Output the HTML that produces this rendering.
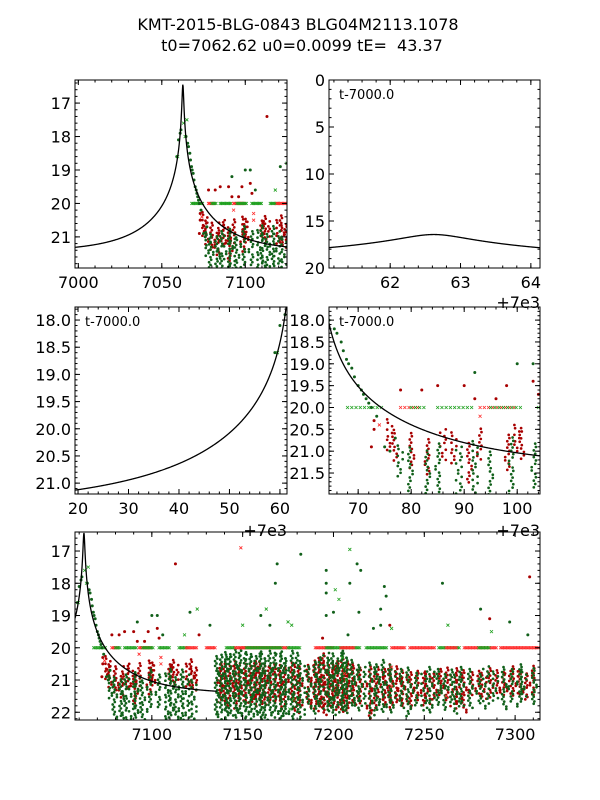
<!DOCTYPE html>
<html><head><meta charset="utf-8"><style>
html,body{margin:0;padding:0;background:#fff;}
svg{display:block;font-family:"DejaVu Sans","Liberation Sans",sans-serif;}
</style></head><body>
<svg id="fig" xmlns="http://www.w3.org/2000/svg" width="600" height="800" viewBox="0 0 600 800">
<rect width="600" height="800" fill="#fff"/>
<text x="298" y="30" font-size="16" text-anchor="middle">KMT-2015-BLG-0843 BLG04M2113.1078</text>
<text x="302" y="51" font-size="16" text-anchor="middle" xml:space="preserve">t0=7062.62 u0=0.0099 tE=  43.37</text>
</svg>
<script>
// model parameters
const modelT0 = [7062.62];
const modelU0 = [0.0099];
const modelTE = [43.37];
const modelM0 = [21.45];
// red dense observation nights: [t, brightest mag, faintest mag]
const redStreaks = [
[7076,20.3,21.0],[7077,20.5,21.2],[7080,20.6,21.4],[7083,20.7,21.5],[7086,20.5,21.2],[7088,20.6,21.3],[7091,20.8,21.7],[7093,20.5,21.2],[7098,20.6,21.4],[7100,20.4,21.0],[7101,20.5,21.2],[7110,20.5,21.0],[7111,20.4,21.0],[7113,20.5,21.1],[7120,20.5,21.2],[7122,20.4,21.2],[7124,20.6,21.3],
[7137,20.5,21.7],[7139,20.6,21.5],[7141,20.5,21.8],[7143,20.6,21.6],[7145,20.4,21.5],[7147,20.5,21.9],[7149,20.6,21.6],[7152,20.5,21.7],[7154,20.6,21.5],[7156,20.4,21.8],[7158,20.5,21.6],[7160,20.4,21.7],[7162,20.5,21.6],[7164,20.6,21.8],[7166,20.5,21.5],[7169,20.6,21.7],[7171,20.5,21.6],[7173,20.6,21.9],[7176,20.5,21.6],[7180,20.5,22.0],[7182,20.6,21.8],
[7186,20.5,21.8],[7189,20.4,21.7],[7191,20.5,22.0],[7193,20.3,21.8],[7195,20.2,22.1],[7197,20.5,21.7],[7199,20.6,21.8],[7201,20.5,21.6],[7203,20.4,21.9],[7205,20.3,22.0],[7207,20.4,21.9],[7209,20.5,21.7],[7212,20.6,21.8],[7215,20.6,21.7],
[7220,20.6,22.2],[7222,20.7,21.9],[7226,20.6,21.6],[7229,20.7,21.8],[7231,20.5,21.9],[7234,20.6,21.7],[7236,20.7,21.6],[7239,20.7,21.8],[7243,20.8,21.9],[7246,20.7,21.6],[7249,20.8,21.8],[7252,20.7,21.7],[7256,20.8,21.6],[7259,20.7,21.5],[7262,20.6,21.6],[7266,20.8,21.9],[7269,20.6,21.7],[7272,20.7,22.0],[7276,20.8,21.5],[7279,20.7,21.4],[7283,20.8,21.6],[7287,20.6,21.5],[7290,20.7,21.4],[7293,20.8,21.5],[7296,20.7,21.4],[7300,20.6,21.5],[7303,20.7,21.4],[7306,20.8,21.6],[7309,20.6,21.5]
];
// green dense observation nights: [t, brightest mag, faintest mag]
const greenStreaks = [
[7078,20.9,21.6],[7080,20.9,22.2],[7083,21.0,22.2],[7085,20.8,22.2],[7089,20.9,22.2],[7092,20.8,22.2],[7095,21.0,22.2],[7099,20.7,22.0],[7103,20.8,21.8],[7109,20.8,22.2],[7111,20.7,22.2],[7113,20.9,22.2],[7116,20.7,22.2],[7119,20.8,22.2],[7123,21.0,22.2],
[7136,20.3,22.1],[7138,20.2,22.2],[7140,20.3,22.0],[7142,20.1,22.2],[7144,20.2,22.1],[7146,20.1,22.2],[7148,20.0,22.0],[7150,20.2,22.2],[7153,20.1,22.1],[7155,20.2,22.2],[7157,20.3,22.0],[7159,20.1,22.2],[7161,20.2,22.1],[7163,20.3,22.2],[7165,20.1,22.0],[7167,20.2,22.2],[7170,20.1,22.1],[7172,20.2,22.2],[7174,20.3,22.0],[7177,20.1,22.2],[7179,20.2,22.1],[7183,20.4,22.2],
[7187,20.6,21.9],[7190,20.4,22.0],[7192,20.3,21.8],[7196,20.2,22.0],[7198,20.3,21.9],[7200,20.2,22.1],[7202,20.3,21.8],[7204,20.1,22.0],[7206,20.2,21.9],[7208,20.3,22.0],[7210,20.4,21.8],[7213,20.5,21.9],[7216,20.6,21.8],
[7221,20.5,22.2],[7224,20.5,21.9],[7227,20.4,22.0],[7230,20.5,21.8],[7233,20.6,22.0],[7238,20.7,21.9],[7241,20.6,22.1],[7245,20.8,21.8],[7250,20.7,21.9],[7254,20.6,22.0],[7258,20.7,21.8],[7261,20.8,21.9],[7264,20.7,21.7],[7268,20.8,22.0],[7271,20.6,21.8],[7275,20.7,21.9],[7280,20.8,21.7],[7284,20.6,21.9],[7289,20.7,21.6],[7294,20.6,21.9],[7298,20.7,21.7],[7302,20.5,21.8],[7305,20.7,21.6],[7311,20.6,21.7]
];
// individual points [t, mag]
const greenPoints = [
[7059,18.6],[7060,18.1],[7061,17.9],[7061.5,17.8],[7064.5,18.0],[7065.5,18.2],[7066,18.3],[7066.8,18.5],[7067.2,18.7],[7067.8,18.9],[7068.2,19.0],[7068.8,19.1],[7069.3,19.3],[7070,19.5],[7070.6,19.6],[7071,19.7],[7071.5,19.8],[7072,19.9],[7072.5,20.0],[7073.5,20.2],[7075,20.9],[7076,21.0],[7077,20.7],
[7100,19.0],[7092,19.2],[7103,19.0],[7132,19.3],[7160,19.0],[7168,18.0],[7169,17.4],[7165,19.3],[7182,17.1],[7196,17.6],[7196,18.0],[7196,18.3],[7196,19.0],[7213,17.4],[7215,17.6],[7209,18.0],[7228,18.1],[7229,18.4],[7226,18.8],[7200,18.9],[7260,18.0],[7281,18.8],[7297,19.2],[7307,19.6],[7226,19.3],[7214,18.9],[7208,19.6],[7222,19.4],[7106,19.6],[7121,18.9]
];
const redPoints = [
[7073,20.3],[7073,20.5],[7072.5,20.9],[7113,17.4],[7082,19.6],[7085,19.5],[7090,19.5],[7103,19.4],[7092,19.8],[7096,19.8],[7194,19.7],[7231,19.3],[7286,19.1],[7308,17.8],[7126,19.6],[7104,19.7],[7078,19.6],[7098,19.5]
];
const greenCrosses = [
[7059.5,18.6],[7063,17.6],[7064,18.0],[7065,17.5],[7125,18.8],[7209,16.95],[7201,18.2],[7203,18.5],[7175,19.2],[7177,19.3],[7163,18.8],[7118,19.6],[7150,19.3],[7232,19.4],[7263,19.3],[7287,19.5],[7205,20.3],[7206,20.6],[7207,21.0],[7178,21.6],[7176,21.9]
];
const redCrosses = [[7149,16.9],[7105,20.3],[7105,20.5],[7093,20.2],[7074,20.4],[7206,20.8],[7232,20.6],[7232,21.2],[7262,21.5]];
// upper-limit rows at 20.0: [t start, t end, colour]
const limitSegments = [
[7068,7075,'g'],[7078,7082,'r'],[7080,7083,'g'],[7085,7092,'g'],[7093,7100,'r'],[7095,7101,'g'],[7104,7110,'g'],[7115,7120,'g'],[7119,7125,'r'],[7130,7135,'r'],
[7141,7146,'g'],[7146,7152,'r'],[7150,7175,'r'],[7152,7172,'g'],[7175,7182,'g'],[7190,7200,'r'],[7196,7215,'g'],[7204,7212,'r'],[7218,7230,'g'],[7232,7240,'r'],
[7242,7256,'r'],[7258,7270,'g'],[7262,7268,'r'],[7272,7290,'r'],[7280,7286,'g'],[7292,7313,'r']
];
// tick values
const p1XTicks=[7000,7050,7100], p1YTicks=[17,18,19,20,21];
const p2XTicks=[62,63,64], p2YTicks=[0,5,10,15,20];
const p3XTicks=[20,30,40,50,60], p3YTicks=[18.0,18.5,19.0,19.5,20.0,20.5,21.0];
const p4XTicks=[70,80,90,100], p4YTicks=[18.0,18.5,19.0,19.5,20.0,20.5,21.0,21.5];
const p5XTicks=[7100,7150,7200,7250,7300], p5YTicks=[17,18,19,20,21,22];

const NS='http://www.w3.org/2000/svg';
const fig=document.getElementById('fig');
function mk(tag,attrs,parent){const e=document.createElementNS(NS,tag);for(const k in attrs)e.setAttribute(k,attrs[k]);(parent||fig).appendChild(e);return e;}
function model(t){const u=Math.sqrt(modelU0[0]*modelU0[0]+Math.pow((t-modelT0[0])/modelTE[0],2));const A=(u*u+2)/(u*Math.sqrt(u*u+4));return modelM0[0]-2.5*Math.log10(A);}
const RED='#a80000',GREEN='#11601a',RX='#ff2a2a',GX='#1fa01f';
let clipId=0;
function panel(c){
  const g=mk('g',{});
  
  
  const sx=v=>c.x+(v-c.off-c.xd[0])/(c.xd[1]-c.xd[0])*c.w;
  const sy=v=>c.y+(v-c.yd[0])/(c.yd[1]-c.yd[0])*c.h;
  const id='clip'+(clipId++);
  const cp=mk('clipPath',{id:id},g);mk('rect',{x:c.x,y:c.y,width:c.w,height:c.h},cp);
  const plot=mk('g',{'clip-path':'url(#'+id+')'},g);
  if(c.data){
    const tmin=c.xd[0]+c.off-2,tmax=c.xd[1]+c.off+2;
    const ds=(arr,col,name)=>{
      const sg=mk('g',{fill:col},plot);
      
      
      arr.forEach((s,k)=>{ if(s[0]<tmin||s[0]>tmax)return;
        const n=Math.max(3,Math.round((s[2]-s[1])/0.075));
        for(let i=0;i<=n;i++){const m=s[1]+(s[2]-s[1])*i/n;
          const h=(i*i*7+i*3+k*11)%9-4, h2=(i*i*5+k*3)%5-2;
          mk('circle',{cx:sx(s[0])+h*0.7,cy:sy(m)+h2*0.6,r:1.35},sg);}
      });
    };
    ds(redStreaks,RED,'red-dense-points');
    ds(greenStreaks,GREEN,'green-dense-points');
    const lg=mk('g',{'stroke-width':0.8},plot);
    
    
    limitSegments.forEach(s=>{for(let t=s[0];t<=s[1];t+=0.8){if(t<tmin||t>tmax)continue;
      const X=sx(t),Y=sy(20.0);mk('path',{d:`M${X-1.5},${Y-1.5}L${X+1.5},${Y+1.5}M${X-1.5},${Y+1.5}L${X+1.5},${Y-1.5}`,stroke:s[2]=='r'?RX:GX},lg);}});
    const pts=(arr,col,name)=>{const pg=mk('g',{fill:col},plot);
      
      
      arr.forEach(p=>mk('circle',{cx:sx(p[0]),cy:sy(p[1]),r:1.5},pg));};
    pts(greenPoints,GREEN,'green-points');pts(redPoints,RED,'red-points');
    const crs=(arr,col,name)=>{const cg=mk('g',{stroke:col,'stroke-width':0.8},plot);
      
      
      arr.forEach(p=>{const X=sx(p[0]),Y=sy(p[1]);mk('path',{d:`M${X-1.5},${Y-1.5}L${X+1.5},${Y+1.5}M${X-1.5},${Y+1.5}L${X+1.5},${Y-1.5}`},cg);});};
    crs(greenCrosses,GX,'green-crosses');crs(redCrosses,RX,'red-crosses');
  }
  let d='';
  const tEnd=c.curveEnd?Math.min(c.curveEnd,c.off+c.xd[1]):c.off+c.xd[1];
  const tStart=c.off+c.xd[0];
  for(let i=0;i<=600;i++){const t=tStart+(tEnd-tStart)*i/600;d+=(i?'L':'M')+sx(t).toFixed(2)+','+sy(model(t)).toFixed(2);}
  const ml=mk('path',{d:d,fill:'none',stroke:'#000','stroke-width':1.3},plot);
  
  
  const tg=mk('g',{stroke:'#000','stroke-width':1},g);
  const tick=(v,maj,axis)=>{const L=maj?5:2.5;
    if(axis=='x'){const X=sx(v);if(X<c.x-0.5||X>c.x+c.w+0.5)return;mk('line',{x1:X,x2:X,y1:c.y+c.h,y2:c.y+c.h-L},tg);mk('line',{x1:X,x2:X,y1:c.y,y2:c.y+L},tg);}
    else{const Y=sy(v);if(Y<c.y-0.5||Y>c.y+c.h+0.5)return;mk('line',{x1:c.x,x2:c.x+L,y1:Y,y2:Y},tg);mk('line',{x1:c.x+c.w,x2:c.x+c.w-L,y1:Y,y2:Y},tg);}};
  for(let k=Math.ceil((c.xd[0]+c.off)/c.xm);k*c.xm<=c.xd[1]+c.off;k++)tick(k*c.xm,false,'x');
  for(let k=Math.ceil(c.yd[0]/c.ym);k*c.ym<=c.yd[1];k++)tick(k*c.ym,false,'y');
  c.xt.forEach(v=>{tick(v+c.off,true,'x');const t=mk('text',{x:sx(v+c.off),y:c.y+c.h+20,'font-size':16,'text-anchor':'middle'},g);t.textContent=v;
    
    });
  c.yt.forEach(v=>{tick(v,true,'y');const t=mk('text',{x:c.x-4,y:sy(v)+6,'font-size':16,'text-anchor':'end'},g);t.textContent=c.yfix?v.toFixed(1):v;
    
    });
  const fr=mk('rect',{x:c.x,y:c.y,width:c.w,height:c.h,fill:'none',stroke:'#000','stroke-width':1},g);
  
  
  if(c.label){const t=mk('text',{x:c.x+10,y:c.y+19,'font-size':13},g);t.textContent='t-7000.0';
    
    }
}
panel({name:'panel-overview',x:75,y:80,w:212,h:188,xd:[6998,7125],yd:[16.31,21.93],off:0,xt:p1XTicks,yt:p1YTicks,xm:10,ym:0.2,data:true});
panel({name:'panel-peak-zoom',x:329,y:80,w:211,h:188,xd:[61.13,64.13],yd:[0,20],off:7000,xt:p2XTicks,yt:p2YTicks,xm:0.2,ym:1,label:true});
panel({name:'panel-rise',x:75,y:307,w:212,h:187,xd:[19.4,61.4],yd:[17.76,21.2],off:7000,xt:p3XTicks,yt:p3YTicks,xm:2,ym:0.1,label:true,yfix:true,data:true});
panel({name:'panel-decline',x:329,y:307,w:211,h:187,xd:[64.5,104.3],yd:[17.7,21.98],off:7000,xt:p4XTicks,yt:p4YTicks,xm:2,ym:0.1,label:true,yfix:true,data:true});
[[540,308],[287,536],[540,536]].forEach(p=>{const t=mk('text',{x:p[0],y:p[1],'font-size':16,'text-anchor':'end'});t.textContent='+7e3';
  
  });
panel({name:'panel-full-season',x:75,y:532,w:465,h:188,xd:[7057.7,7313.7],yd:[16.41,22.24],off:0,xt:p5XTicks,yt:p5YTicks,xm:10,ym:0.2,data:true,curveEnd:7135.7});
</script>
</body></html>
